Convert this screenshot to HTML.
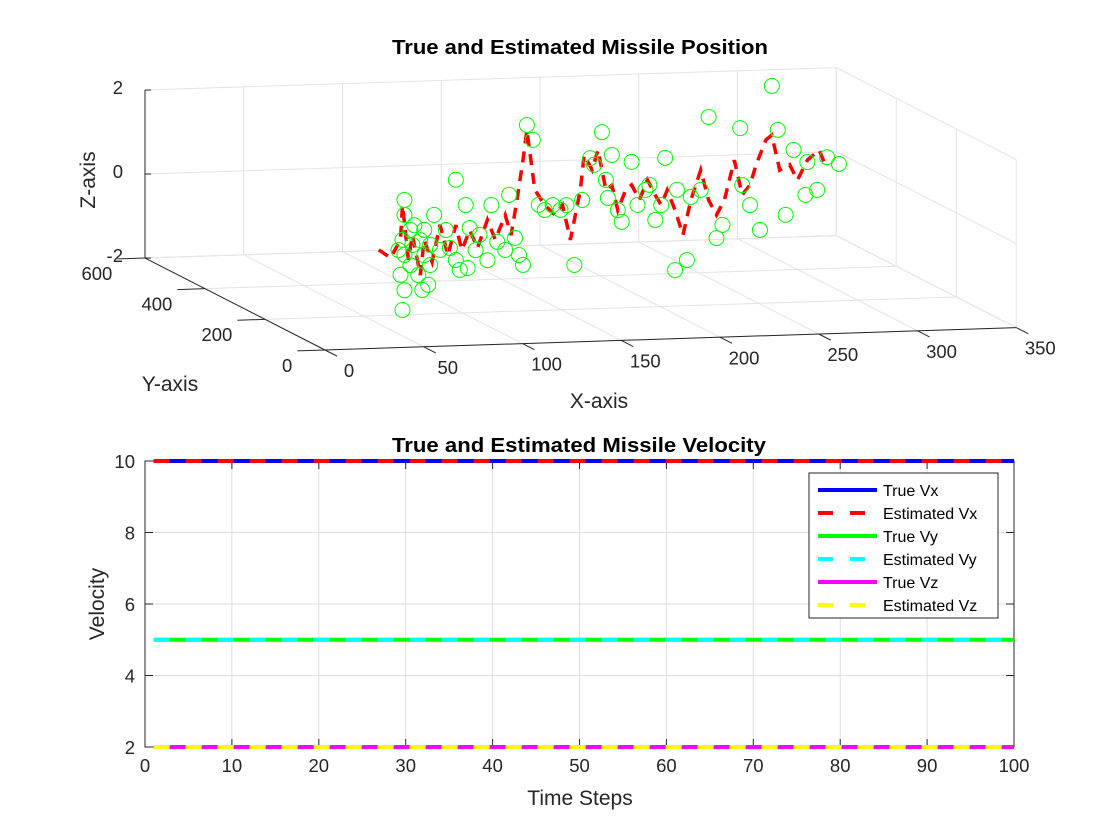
<!DOCTYPE html>
<html><head><meta charset="utf-8"><style>
body{margin:0;background:#fff;}
svg{display:block;font-family:"Liberation Sans",Arial,sans-serif;}
</style></head><body>
<svg id="fig" width="1120" height="840"></svg>
<script>
// ---- 3D position data (y assumed ~400) ----
const estX=[88,94,99,100,103,105,109,111,115,119,123,127,130,134,138,143,147,152,155,158,161,163,167,172,177,181,185,190,192,196,199,203,206,209,213,216,220,224,228,231,234,238,242,246,251,255,259,263,268,272,276,279,284,287,291,296,300,305,311,314];
const estZ=[-1.21,-1.41,-0.99,-0.16,-1.47,-0.88,-1.84,-1.01,-1.54,-0.66,-1.39,-0.68,-1.28,-0.81,-1.24,-0.58,-1.06,-0.48,-0.96,-0.13,0.82,1.53,0.1,-0.27,-0.51,-0.28,-1.12,0.06,0.89,0.53,1.0,0.04,0.15,-0.45,0.03,0.14,-0.22,0.25,-0.12,-0.36,-0.01,-0.49,-1.09,-0.26,0.44,-0.28,-0.64,-0.29,0.65,-0.18,0.05,0.52,1.11,1.22,0.38,0.5,0.13,0.6,0.83,0.47];
const estY=400;
const measX=[101,101,104,100,98,101,104,99,101,100,106,109,111,113,110,108,114,116,119,122,124,127,129,132,134,137,139,143,145,148,152,154,157,159,161,163,166,169,172,176,180,183,187,191,195,197,201,203,204,206,209,211,216,219,223,225,228,231,233,238,239,244,246,251,255,259,262,271,272,276,281,287,290,294,298,304,305,310,315,321,127,133,111,114,105];
const measZ=[-0.04,-0.40,-0.76,-0.99,-1.23,-1.35,-1.60,-1.82,-2.19,-2.66,-0.65,-1.01,-1.37,-2.08,-2.20,-1.84,-1.61,-0.42,-1.26,-0.79,-1.22,0.40,-1.75,-0.21,-0.76,-1.29,-0.93,-1.54,-0.23,-1.11,-1.31,0.00,-1.03,-1.44,-1.68,1.65,1.29,-0.26,-0.39,-0.28,-0.40,-0.29,-1.72,-0.18,0.81,0.65,1.42,0.28,-0.15,0.87,-0.45,-0.73,0.69,-0.34,0.01,0.13,-0.71,-0.36,0.76,-1.92,-0.01,-1.69,-0.19,-0.03,1.70,-1.19,-0.88,1.41,0.05,-0.43,-1.03,2.39,1.34,-0.69,0.85,-0.23,0.55,-0.12,0.65,0.48,-1.51,-1.71,-0.77,-1.13,-1.12];
const xTicks=[0,50,100,150,200,250,300,350];
const yTicks=[0,200,400,600];
const zTicks=[-2,0,2];
// ---- velocity data ----
const steps=Array.from({length:100},(_,i)=>i+1);
const trueVx=10, estVx=10, trueVy=5, estVy=5, trueVz=2, estVz=2;
const tTicks=[0,10,20,30,40,50,60,70,80,90,100];
const vTicks=[2,4,6,8,10];

const NS="http://www.w3.org/2000/svg";
const svg=document.getElementById('fig');
function el(tag,attrs,parent){const e=document.createElementNS(NS,tag);for(const k in attrs)e.setAttribute(k,attrs[k]);(parent||svg).appendChild(e);return e;}
function txt(s,attrs,parent){const e=el('text',attrs,parent);e.textContent=s;return e;}
const TF=18.5, LF=21;

// 3D projection
function P(x,y,z){return [325+1.975*x-0.3*y, 350-0.064*x-0.1533*y-42*(z+2)];}
function line3(a,b,stroke,w,name){const p=P(...a),q=P(...b);const l=el('line',{x1:p[0],y1:p[1],x2:q[0],y2:q[1],stroke:stroke,'stroke-width':w});

return l;}
const G='#e3e3e3';
xTicks.forEach(x=>{line3([x,600,-2],[x,600,2],G,1,'back-grid-x');line3([x,0,-2],[x,600,-2],G,1,'floor-grid-x');});
zTicks.forEach(z=>{line3([0,600,z],[350,600,z],G,1,'back-grid-z');line3([350,0,z],[350,600,z],G,1,'side-grid-z');});
yTicks.forEach(y=>{line3([0,y,-2],[350,y,-2],G,1,'floor-grid-y');line3([350,y,-2],[350,y,2],G,1,'side-grid-y');});
const A='#262626';
line3([0,0,-2],[350,0,-2],A,1,'x-axis');
line3([0,0,-2],[0,600,-2],A,1,'y-axis');
line3([0,600,-2],[0,600,2],A,1,'z-axis');
let t;
xTicks.forEach(x=>{const p=P(x,0,-2);const q=P(x,-40,-2);el('line',{x1:p[0],y1:p[1],x2:q[0],y2:q[1],stroke:A});
t=txt(String(x),{x:q[0]+12,y:q[1]+21,'font-size':TF,'text-anchor':'middle',fill:'#262626'});
});
yTicks.forEach(y=>{const p=P(0,y,-2);const q=P(-14,y,-2);el('line',{x1:p[0],y1:p[1],x2:q[0],y2:q[1],stroke:A});
t=txt(String(y),{x:q[0]-5,y:q[1]+21,'font-size':TF,'text-anchor':'end',fill:'#262626'});
});
zTicks.forEach(z=>{const p=P(0,600,z);el('line',{x1:p[0],y1:p[1],x2:p[0]+6,y2:p[1],stroke:A});
t=txt(String(z),{x:p[0]-22,y:p[1]+4,'font-size':TF,'text-anchor':'end',fill:'#262626'});
});
let d='';estX.forEach((x,i)=>{const p=P(x,estY,estZ[i]);d+=(i?'L':'M')+p[0].toFixed(1)+','+p[1].toFixed(1);});
const ep=el('path',{d:d,fill:'none',stroke:'#ff0000','stroke-width':3.5,'stroke-dasharray':'11,8'});


measX.forEach((x,i)=>{const p=P(x,estY,measZ[i]);const c=el('circle',{cx:p[0],cy:p[1],r:7.5,fill:'none',stroke:'#00ff00','stroke-width':1});

});
t=txt('True and Estimated Missile Position',{x:580,y:54,'font-size':20,'font-weight':'bold','text-anchor':'middle',fill:'#000',textLength:376,lengthAdjust:'spacingAndGlyphs'});

t=txt('X-axis',{x:599,y:408,'font-size':LF,'text-anchor':'middle',fill:'#262626'});

t=txt('Y-axis',{x:170,y:391,'font-size':LF,'text-anchor':'middle',fill:'#262626'});

t=txt('Z-axis',{x:0,y:0,'font-size':LF,'text-anchor':'middle',fill:'#262626',transform:'translate(95,180) rotate(-90)'});


// ---- velocity plot ----
const L=145,R=1014,T=461,B=747;
const sx=v=>L+(v-0)/100*(R-L);
const sy=v=>B-(v-2)/8*(B-T);
tTicks.forEach(v=>{el('line',{x1:sx(v),y1:T,x2:sx(v),y2:B,stroke:'#dfdfdf'});
el('line',{x1:sx(v),y1:B,x2:sx(v),y2:B-8,stroke:A});el('line',{x1:sx(v),y1:T,x2:sx(v),y2:T+8,stroke:A});
t=txt(String(v),{x:sx(v),y:B+25,'font-size':TF,'text-anchor':'middle',fill:'#262626'});
});
vTicks.forEach(v=>{el('line',{x1:L,y1:sy(v),x2:R,y2:sy(v),stroke:'#dfdfdf'});
el('line',{x1:L,y1:sy(v),x2:L+8,y2:sy(v),stroke:A});el('line',{x1:R,y1:sy(v),x2:R-8,y2:sy(v),stroke:A});
t=txt(String(v),{x:L-10,y:sy(v)+7,'font-size':TF,'text-anchor':'end',fill:'#262626'});
});
const box=el('rect',{x:L,y:T,width:R-L,height:B-T,fill:'none',stroke:A});


const series=[['true-vx',trueVx,'#0000ff',''],['estimated-vx',estVx,'#ff0000','16,16'],['true-vy',trueVy,'#00ff00',''],['estimated-vy',estVy,'#00ffff','16,16'],['true-vz',trueVz,'#ff00ff',''],['estimated-vz',estVz,'#ffff00','16,16']];
series.forEach(s=>{let d='';steps.forEach((k,i)=>{d+=(i?'L':'M')+sx(k).toFixed(1)+','+sy(s[1]).toFixed(1);});
const p=el('path',{d:d,fill:'none',stroke:s[2],'stroke-width':4,'stroke-dasharray':s[3]||'none'});

});
t=txt('True and Estimated Missile Velocity',{x:579,y:452,'font-size':20,'font-weight':'bold','text-anchor':'middle',fill:'#000',textLength:374,lengthAdjust:'spacingAndGlyphs'});

t=txt('Time Steps',{x:580,y:805,'font-size':LF,'text-anchor':'middle',fill:'#262626'});

t=txt('Velocity',{x:0,y:0,'font-size':LF,'text-anchor':'middle',fill:'#262626',transform:'translate(104,604) rotate(-90)'});

// legend
const lg=el('g',{});


el('rect',{x:809,y:473,width:189,height:145,fill:'#fff',stroke:'#262626'},lg);
const labels=['True Vx','Estimated Vx','True Vy','Estimated Vy','True Vz','Estimated Vz'];
series.forEach((s,i)=>{const y=490+i*23;
const ln=el('line',{x1:818,y1:y,x2:877,y2:y,stroke:s[2],'stroke-width':4,'stroke-dasharray':s[3]?'15,17':'none'},lg);

const tt=txt(labels[i],{x:883,y:y+6,'font-size':16,fill:'#000'},lg);
});
</script>
</body></html>
